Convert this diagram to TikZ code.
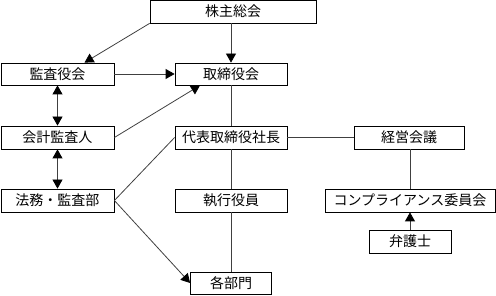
\documentclass[tikz,border=0pt]{standalone}
\usepackage{fontspec}
\newfontfamily\jp{Noto Sans CJK JP}
\usetikzlibrary{arrows.meta}
\begin{document}
\begin{tikzpicture}[x=1pt,y=-1pt,
  box/.style={draw=black,line width=0.8pt,fill=white,inner sep=0pt,
    font=\jp\fontsize{14}{15}\selectfont},
  conn/.style={draw=black!75,line width=0.8pt},
  arr/.style={conn,-{Triangle[length=9pt,width=10pt,black]}},
  darr/.style={conn,{Triangle[length=9pt,width=10pt,black]}-{Triangle[length=9pt,width=10pt,black]}}]
\useasboundingbox (0,0) rectangle (496,296);
\node[box,minimum width=166pt,minimum height=23pt] (kabu) at (233,11.5) {株主総会};
\node[box,minimum width=113pt,minimum height=22pt] (kansa) at (57.5,74) {監査役会};
\node[box,minimum width=112pt,minimum height=22pt] (tori) at (231,74) {取締役会};
\node[box,minimum width=113pt,minimum height=23pt] (kaikei) at (57.5,137.5) {会計監査人};
\node[box,minimum width=112pt,minimum height=23pt] (daihyo) at (231,137.5) {代表取締役社長};
\node[box,minimum width=113pt,minimum height=23pt] (houmu) at (57.5,200.5) {法務・監査部};
\node[box,minimum width=112pt,minimum height=23pt] (shikko) at (231,200.5) {執行役員};
\node[box,minimum width=81pt,minimum height=22pt] (kakubu) at (231,283) {各部門};
\node[box,minimum width=110pt,minimum height=23pt] (keiei) at (409,137.5) {経営会議};
\node[box,minimum width=170pt,minimum height=23pt] (comp) at (410,200.5) {コンプライアンス委員会};
\node[box,minimum width=82pt,minimum height=23pt] (bengo) at (410,241.5) {弁護士};

\draw[arr] (kabu.south west) -- ([xshift=27pt]kansa.north);
\draw[arr] (tori.north |- kabu.south) -- (tori.north);
\draw[arr] (kansa.east) -- (tori.west);
\draw[darr] (kansa.south) -- (kaikei.north);
\draw[arr] (kaikei.east) -- ([xshift=-31pt]tori.south);
\draw[conn] (tori.south) -- (daihyo.north);
\draw[conn] (daihyo.east) -- (keiei.west);
\draw[conn] (comp.north |- keiei.south) -- (comp.north);
\draw[arr] (bengo.north) -- (comp.south);
\draw[darr] (kaikei.south) -- (houmu.north);
\draw[conn] (houmu.east) -- (daihyo.west);
\draw[arr] (houmu.east) -- (kakubu.west);
\draw[conn] (daihyo.south) -- (shikko.north);
\draw[conn] (shikko.south) -- (kakubu.north);
\end{tikzpicture}
\end{document}
